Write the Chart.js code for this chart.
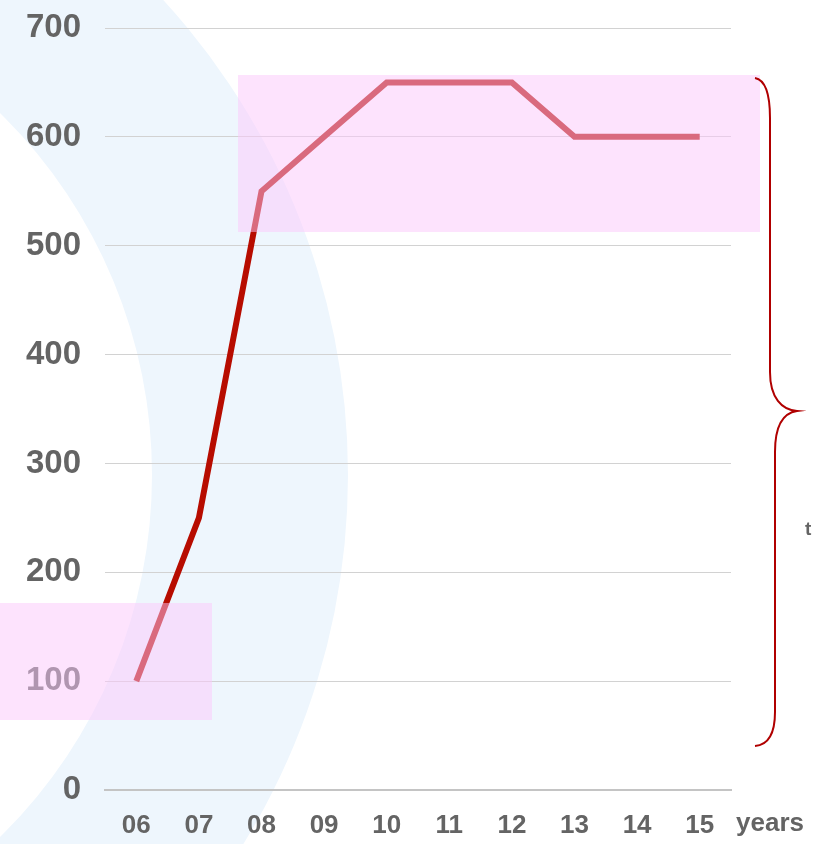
<!DOCTYPE html>
<html>
<head>
<meta charset="utf-8">
<script src="https://cdn.jsdelivr.net/npm/chart.js@4.4.0/dist/chart.umd.min.js"></script>
<style>
html, body { margin: 0; padding: 0; background: #fff; }
canvas { display: block; }
</style>
</head>
<body>
<canvas id="graph" width="814" height="844"></canvas>
<script>
// données
const years = ['06', '07', '08', '09', '10', '11', '12', '13', '14', '15'];
const values = [100, 250, 550, 600, 650, 650, 650, 600, 600, 600];
const yMin = 0;
const yMax = 700;
const yStep = 100;
const axisTitle = 'years';
const braceLabel = 't';

const grey = '#646464';
const lineRed = '#b70c00';
const pink = 'rgba(252, 200, 252, 0.5)';
const fontFamily = '"Liberation Sans", Arial, sans-serif';

// fond : grand anneau bleu clair (filigrane)
const bgPlugin = {
    id: 'bg',
    beforeDraw(chart) {
        const ctx = chart.ctx;
        ctx.save();
        ctx.fillStyle = '#ffffff';
        ctx.fillRect(0, 0, chart.width, chart.height);
        ctx.beginPath();
        ctx.arc(-355, 475, 703, 0, Math.PI * 2);
        ctx.arc(-355, 475, 507, 0, Math.PI * 2, true);
        ctx.fillStyle = '#eef6fd';
        ctx.fill('evenodd');
        ctx.restore();
    }
};

// surcouches : rectangles roses, accolade, textes
const overlayPlugin = {
    id: 'overlay',
    afterDraw(chart) {
        const ctx = chart.ctx;
        const x = chart.scales.x;
        ctx.save();
        ctx.fillStyle = pink;
        ctx.fillRect(238, 75, 522, 157);
        ctx.fillRect(0, 603, 212, 117);

        // accolade
        ctx.beginPath();
        ctx.moveTo(755, 78);
        ctx.bezierCurveTo(766, 80, 770, 95, 770, 118);
        ctx.lineTo(770, 372);
        ctx.bezierCurveTo(770, 398, 782, 410, 797, 411);
        ctx.bezierCurveTo(783, 413, 775, 425, 775, 452);
        ctx.lineTo(775, 712);
        ctx.bezierCurveTo(775, 734, 768, 745, 755, 746);
        ctx.strokeStyle = '#b00000';
        ctx.lineWidth = 2;
        ctx.stroke();

        ctx.fillStyle = grey;
        ctx.textBaseline = 'middle';
        ctx.font = 'bold 19px ' + fontFamily;
        ctx.textAlign = 'left';
        ctx.fillText(braceLabel, 805, 530);

        ctx.font = 'bold 26px ' + fontFamily;
        ctx.textAlign = 'center';
        ctx.fillText(axisTitle, 770, x.top + 34);
        ctx.restore();
    }
};

const ctx = document.getElementById('graph').getContext('2d');
const chart = new Chart(ctx, {
    type: 'line',
    data: {
        labels: years,
        datasets: [{
            data: values,
            borderColor: lineRed,
            borderWidth: 6,
            pointRadius: 0,
            tension: 0,
            fill: false,
            borderJoinStyle: 'miter'
        }]
    },
    options: {
        responsive: false,
        animation: false,
        layout: { padding: { left: 0, right: 83, top: 28, bottom: 0 } },
        plugins: {
            legend: { display: false },
            tooltip: { enabled: false }
        },
        scales: {
            x: {
                offset: true,
                grid: { display: false, drawTicks: false },
                border: { display: true, color: '#c4c4c4', width: 2 },
                ticks: {
                    color: grey,
                    padding: 20,
                    maxRotation: 0,
                    font: { family: fontFamily, size: 26, weight: 'bold' }
                },
                afterFit(scale) { scale.height = 54; }
            },
            y: {
                min: yMin,
                max: yMax,
                grid: { color: '#d2d2d2', lineWidth: 1, drawTicks: false },
                border: { display: false },
                ticks: {
                    stepSize: yStep,
                    color: grey,
                    padding: 24,
                    font: { family: fontFamily, size: 33, weight: 'bold' }
                },
                afterFit(scale) {
                    scale.width = 105;
                    scale.paddingTop = 0;
                    scale.paddingBottom = 0;
                }
            }
        }
    },
    plugins: [bgPlugin, overlayPlugin]
});
</script>
</body>
</html>
